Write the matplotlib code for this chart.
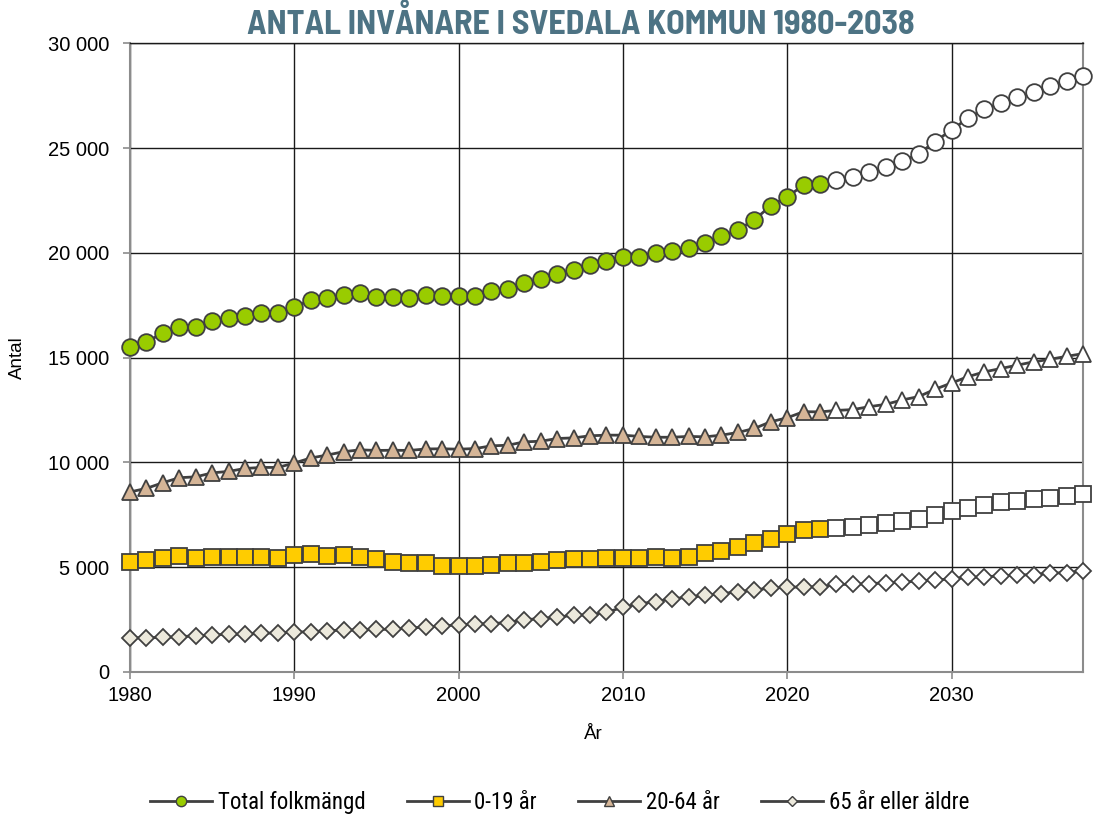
import numpy as np
import matplotlib.pyplot as plt
from matplotlib.lines import Line2D
from matplotlib.ticker import FuncFormatter

plt.rcParams['font.family'] = ['Liberation Sans', 'DejaVu Sans']
narrow = ['Roboto Condensed', 'Archivo Narrow', 'DejaVu Sans']
title_font = ['Barlow Semi Condensed', 'Barlow Condensed', 'DejaVu Sans']

# data: 1980-2022 outcome, 2023-2038 forecast
years = list(range(1980, 2039))
last_actual = 2022

total = [15490, 15760, 16160, 16470, 16470, 16730, 16870, 17000, 17110, 17120,
         17400, 17750, 17840, 18000, 18060, 17900, 17900, 17840, 17980, 17950,
         17920, 17960, 18200, 18270, 18550, 18730, 19000, 19160, 19400, 19630,
         19820, 19810, 19980, 20080, 20240, 20460, 20780, 21100, 21570, 22250,
         22670, 23230, 23290, 23480, 23610, 23850, 24080, 24370, 24720, 25310,
         25860, 26420, 26870, 27130, 27420, 27660, 27960, 28210, 28460]

age_0_19 = [5240, 5350, 5430, 5510, 5450, 5480, 5480, 5480, 5490, 5460,
            5560, 5610, 5530, 5560, 5480, 5370, 5270, 5190, 5190, 5080,
            5060, 5070, 5110, 5190, 5220, 5270, 5330, 5400, 5400, 5430,
            5460, 5430, 5500, 5460, 5500, 5660, 5790, 5950, 6140, 6360,
            6560, 6780, 6830, 6860, 6910, 7020, 7100, 7190, 7320, 7480,
            7660, 7830, 7960, 8090, 8150, 8250, 8320, 8420, 8490]

age_20_64 = [8590, 8760, 9030, 9270, 9310, 9500, 9570, 9710, 9760, 9760,
             9970, 10210, 10350, 10510, 10600, 10570, 10580, 10570, 10640, 10650,
             10630, 10660, 10790, 10820, 10980, 11010, 11140, 11170, 11270, 11300,
             11300, 11240, 11200, 11200, 11240, 11220, 11300, 11430, 11620, 11940,
             12130, 12420, 12410, 12480, 12520, 12660, 12770, 12980, 13140, 13490,
             13790, 14090, 14320, 14480, 14640, 14800, 14920, 15060, 15190]

age_65 = [1630, 1630, 1650, 1680, 1730, 1760, 1800, 1800, 1840, 1870,
          1900, 1920, 1970, 2000, 2000, 2030, 2040, 2090, 2150, 2190,
          2260, 2280, 2310, 2360, 2490, 2550, 2610, 2710, 2730, 2840,
          3090, 3250, 3360, 3500, 3560, 3650, 3740, 3820, 3920, 4000,
          4040, 4060, 4060, 4180, 4180, 4220, 4250, 4280, 4340, 4380,
          4450, 4510, 4540, 4590, 4620, 4650, 4710, 4740, 4820]

series = [
    ('Total folkmängd', total, 'o', '#99cc00', 12),
    ('0-19 år', age_0_19, 's', '#ffcc00', 12),
    ('20-64 år', age_20_64, '^', '#d5b597', 12),
    ('65 år eller äldre', age_65, 'D', '#ece9dc', 8.3),
]

yrs = np.array(years)
hist = yrs <= last_actual
proj = yrs > last_actual

fig = plt.figure(figsize=(10.95, 8.16), dpi=100)
ax = fig.add_axes([0.1187, 0.1765, 0.8703, 0.7705])

edge = '#404040'
handles = []
for name, vals, mk, col, ms in series:
    v = np.array(vals)
    ax.plot(yrs, v, '-', color=edge, lw=2.0, zorder=3, clip_on=False)
    ax.plot(yrs[hist], v[hist], mk, ms=ms, mfc=col, mec=edge, mew=1.3,
            ls='none', zorder=4, clip_on=False)
    ax.plot(yrs[proj], v[proj], mk, ms=ms, mfc='white', mec=edge, mew=1.3,
            ls='none', zorder=4, clip_on=False)
    handles.append(Line2D([], [], color=edge, lw=2.0, marker=mk,
                          ms=ms * 0.62, mfc=col, mec=edge, mew=1.0, label=name))

ax.set_xlim(1980, 2038)
ax.set_ylim(0, 30000)
ax.set_xticks(range(1980, 2031, 10))
ax.set_yticks(range(0, 30001, 5000))
ax.yaxis.set_major_formatter(FuncFormatter(lambda v, p: f'{int(v):,}'.replace(',', ' ')))

ax.grid(True, color='#1a1a1a', lw=1.0, zorder=0)
for s in ['left', 'bottom', 'right']:
    ax.spines[s].set_color('#8c8c8c')
    ax.spines[s].set_linewidth(1.5)
ax.spines['top'].set_color('#1a1a1a')
ax.spines['top'].set_linewidth(1.0)
ax.tick_params(axis='both', direction='out', length=5, width=1.2,
               color='#8c8c8c', labelsize=14.5)
ax.tick_params(axis='y', pad=10)
ax.tick_params(axis='x', pad=5)

ax.set_xlabel('År', fontsize=13.5, va='center')
ax.set_ylabel('Antal', fontsize=13.5, va='center')
ax.xaxis.set_label_coords(0.486, -0.1)
ax.yaxis.set_label_coords(-0.118, 0.5)

fig.text(0.53, 0.972, 'ANTAL INVÅNARE I SVEDALA KOMMUN 1980-2038',
         fontsize=24.5, fontweight='bold', color='#4d7384',
         family=title_font, ha='center', va='center')

fig.legend(handles=handles, loc='lower center', ncol=4, frameon=False,
           bbox_to_anchor=(0.511, -0.023), handlelength=2.7, columnspacing=1.8,
           handletextpad=0.25, prop={'family': narrow, 'size': 16.5})

fig.savefig('out.png', dpi=100)
